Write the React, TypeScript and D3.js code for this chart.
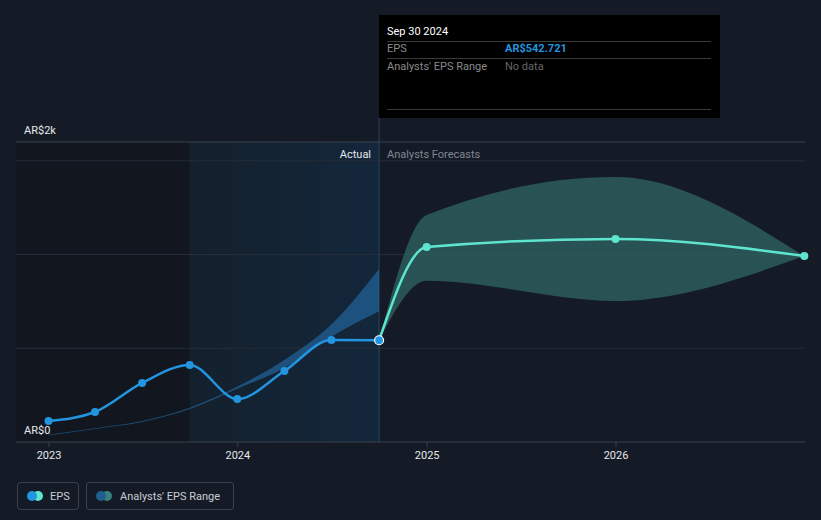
import React from 'react';
import * as d3 from 'd3';

const actualDates = ['2022-12-31', '2023-03-31', '2023-06-30', '2023-09-30', '2023-12-31', '2024-03-31', '2024-06-30', '2024-09-30'];
const actualEps = [112, 160, 315, 411, 229, 379, 544, 542.721];
const pastLow = [35, 70, 107, 176, 284, 395, 562, 697];
const pastHigh = [39, 74, 112, 183, 296, 438, 628, 923];

const forecastDates = ['2024-09-30', '2024-12-31', '2025-12-31', '2026-12-31'];
const forecastEps = [542.721, 1040, 1083, 992];
const forecastLow = [542.721, 860, 752, 992];
const forecastHigh = [542.721, 1211, 1413, 992];

const yearTicks = ['2023', '2024', '2025', '2026'];
const gridValues = [500, 1000, 1500];

const W = 821;
const H = 520;
const font = 'Roboto, "Open Sans", sans-serif';

const parse = d3.timeParse('%Y-%m-%d');

const App: React.FC = () => {
  const x = d3.scaleTime()
    .domain([parse('2023-01-01')!, parse('2026-01-01')!])
    .range([49, 616]);
  const y = d3.scaleLinear().domain([0, 1600]).range([442, 142]);

  const actual = actualDates.map((d, i) => ({ date: parse(d)!, v: actualEps[i], lo: pastLow[i], hi: pastHigh[i] }));
  const forecast = forecastDates.map((d, i) => ({ date: parse(d)!, v: forecastEps[i], lo: forecastLow[i], hi: forecastHigh[i] }));

  const line = d3.line<{ date: Date; v: number }>()
    .x(d => x(d.date))
    .y(d => y(d.v))
    .curve(d3.curveMonotoneX);
  const band = d3.area<{ date: Date; lo: number; hi: number }>()
    .x(d => x(d.date))
    .y0(d => y(d.lo))
    .y1(d => y(d.hi))
    .curve(d3.curveMonotoneX);

  const xLeft = 16;
  const xRight = 805;
  const xNow = x(parse('2024-09-30')!);
  const xHl = x(parse('2023-09-30')!);
  const last = actual[actual.length - 1];

  return (
    <div style={{ position: 'absolute', left: 0, top: 0 }}>
      <svg width={W} height={H} style={{ display: 'block', fontFamily: font }}>
        <defs>
          <linearGradient id="hl" x1="0" x2="1" y1="0" y2="0">
            <stop offset="0" stopColor="#14202d" />
            <stop offset="1" stopColor="#13273b" />
          </linearGradient>
        </defs>
        <rect width={W} height={H} fill="#151b26" />
        <rect x={xLeft} y={142} width={xHl - xLeft} height={300} fill="#12171f" />
        <rect x={xHl} y={142} width={xNow - xHl} height={300} fill="url(#hl)" />

        {/* grid */}
        {gridValues.map(v => (
          <line key={v} x1={xLeft} x2={xRight} y1={y(v)} y2={y(v)} stroke="#262d38" strokeWidth={1} />
        ))}
        <line x1={xLeft} x2={xRight} y1={y(1600)} y2={y(1600)} stroke="#3a414c" strokeWidth={1} />
        <line x1={xLeft} x2={xRight} y1={y(0)} y2={y(0)} stroke="#3a414c" strokeWidth={1} />

        {/* now line */}
        <line x1={xNow} x2={xNow} y1={118} y2={442} stroke="#274662" strokeWidth={1} />

        {/* bands */}
        <path d={band(actual) || ''} fill="#2677b8" fillOpacity={0.55} />
        <path d={band(forecast) || ''} fill="#2f6663" fillOpacity={0.75} />

        {/* lines */}
        <path d={line(actual) || ''} fill="none" stroke="#2394df" strokeWidth={2.5} />
        <path d={line(forecast) || ''} fill="none" stroke="#5ee5cf" strokeWidth={2.5} />
        {actual.slice(0, -1).map((d, i) => (
          <circle key={i} cx={x(d.date)} cy={y(d.v)} r={4} fill="#2394df" />
        ))}
        {forecast.slice(1).map((d, i) => (
          <circle key={i} cx={x(d.date)} cy={y(d.v)} r={4} fill="#5ee5cf" />
        ))}
        <circle cx={x(last.date)} cy={y(last.v)} r={4.5} fill="#2394df" stroke="#ffffff" strokeWidth={1.2} />

        {/* y labels */}
        <text x={24} y={134} fill="#e6e8eb" fontSize={11}>AR$2k</text>
        <text x={24} y={434} fill="#e6e8eb" fontSize={11}>AR$0</text>

        {/* x ticks */}
        {yearTicks.map(t => {
          const xt = x(parse(`${t}-01-01`)!);
          return (
            <g key={t}>
              <line x1={xt} x2={xt} y1={442} y2={447} stroke="#3a414c" />
              <text x={xt} y={459} fill="#e6e8eb" fontSize={11} textAnchor="middle">{t}</text>
            </g>
          );
        })}

        <text x={xNow - 8} y={158} fill="#e6e8eb" fontSize={11} textAnchor="end">Actual</text>
        <text x={xNow + 8} y={158} fill="#7f8792" fontSize={11}>Analysts Forecasts</text>

        {/* tooltip */}
        <rect x={379} y={15} width={341} height={103} fill="#000000" />
        <text x={387} y={35} fill="#ffffff" fontSize={11}>Sep 30 2024</text>
        <line x1={387} x2={711} y1={41.5} y2={41.5} stroke="#3a3a3a" />
        <text x={387} y={52} fill="#8a8a8a" fontSize={11}>EPS</text>
        <text x={505} y={52} fill="#2394df" fontSize={11} fontWeight="bold">AR$542.721</text>
        <line x1={387} x2={711} y1={58.5} y2={58.5} stroke="#3a3a3a" />
        <text x={387} y={70} fill="#8a8a8a" fontSize={11}>Analysts' EPS Range</text>
        <text x={505} y={70} fill="#666666" fontSize={11}>No data</text>
        <line x1={387} x2={711} y1={109.5} y2={109.5} stroke="#3a3a3a" />

        {/* legend */}
        <rect x={17.5} y={482.5} width={61} height={27} rx={3} fill="none" stroke="#3b424d" />
        <circle cx={38} cy={496} r={5} fill="#5ee5cf" />
        <circle cx={32} cy={496} r={5} fill="#2394df" />
        <text x={50} y={500} fill="#c9cdd3" fontSize={11}>EPS</text>
        <rect x={86.5} y={482.5} width={147} height={27} rx={3} fill="none" stroke="#3b424d" />
        <circle cx={107} cy={496} r={5} fill="#3a7f7a" />
        <circle cx={101} cy={496} r={5} fill="#1e5f8f" />
        <text x={120} y={500} fill="#c9cdd3" fontSize={11}>Analysts' EPS Range</text>
      </svg>
    </div>
  );
};

export default App;
